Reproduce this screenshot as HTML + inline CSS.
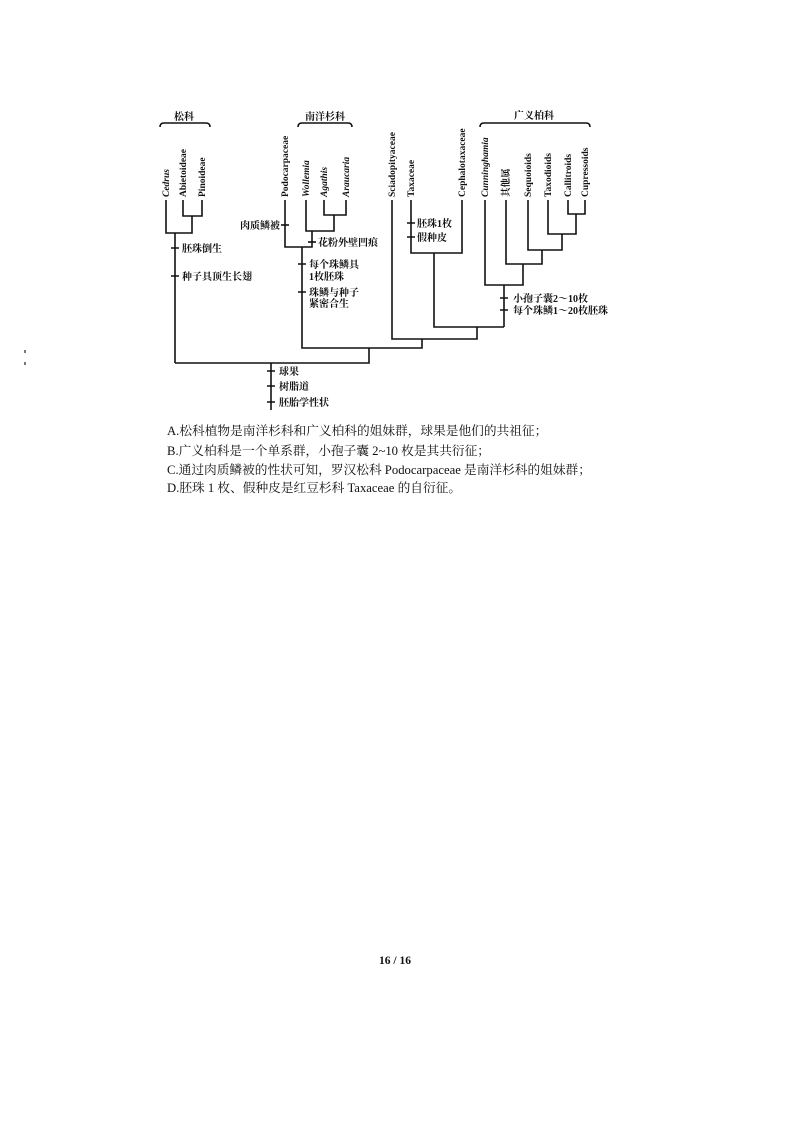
<!DOCTYPE html>
<html><head><meta charset="utf-8">
<style>
html,body{margin:0;padding:0;background:#fff;}
body{width:793px;height:1123px;position:relative;overflow:hidden;}
svg{position:absolute;left:0;top:0;}
.q{position:absolute;left:167px;font-family:"Liberation Serif","Noto Serif CJK SC",serif;font-size:12.7px;color:#111;line-height:19px;white-space:nowrap;}
.pg{position:absolute;left:379px;top:955px;font-family:"Liberation Serif",serif;font-weight:bold;font-size:11.5px;color:#111;}
</style></head><body>
<svg width="793" height="1123" viewBox="0 0 793 1123" font-family="Liberation Serif, Noto Serif CJK SC, serif" fill="#111">
<g stroke="#111" stroke-width="1.6" fill="none">
<path d="M160,127 Q160,123 164,123 L206,123 Q210,123 210,127"/>
<path d="M298,127 Q298,123 302,123 L348,123 Q352,123 352,127"/>
<path d="M480,127 Q480,123 484,123 L586,123 Q590,123 590,127"/>
<path d="M166,200 V233 H192 V216"/>
<path d="M183,200 V216 H202 V200"/>
<path d="M175,233 V363"/>
<path d="M324,200 V215 H346 V200"/>
<path d="M306,200 V231 H334 V215"/>
<path d="M285,200 V247 H312 V231"/>
<path d="M302,247 V348 H422 V339"/>
<path d="M411,200 V253 H462 V200"/>
<path d="M434,253 V327 H504"/>
<path d="M392,200 V339 H477 V327"/>
<path d="M568,200 V214 H585 V200"/>
<path d="M548,200 V234 H576 V214"/>
<path d="M528,200 V250 H562 V234"/>
<path d="M506,200 V264 H542 V250"/>
<path d="M485,200 V285 H523 V264"/>
<path d="M504,285 V327"/>
<path d="M175,363 H369 V348"/>
<path d="M271,363 V410"/>
<path d="M171,248 H179 M171,276 H179"/>
<path d="M267,371 H275 M267,386 H275 M267,402 H275"/>
<path d="M281,225 H289"/>
<path d="M308,242 H316"/>
<path d="M298,264 H306 M298,292 H306"/>
<path d="M407,223 H415 M407,237 H415"/>
<path d="M500,298 H508 M500,310 H508"/>
</g>
<g font-weight="bold" font-size="10">
<text x="174" y="120">松科</text>
<text x="305" y="120">南洋杉科</text>
<text x="514" y="119">广义柏科</text>
<text x="182" y="252">胚珠倒生</text>
<text x="182" y="280">种子具顶生长翅</text>
<text x="279" y="375">球果</text>
<text x="279" y="390">树脂道</text>
<text x="279" y="406">胚胎学性状</text>
<text x="240" y="229">肉质鳞被</text>
<text x="318" y="246">花粉外壁凹痕</text>
<text x="309" y="268">每个珠鳞具</text>
<text x="309" y="280">1枚胚珠</text>
<text x="309" y="296">珠鳞与种子</text>
<text x="309" y="307">紧密合生</text>
<text x="417" y="227">胚珠1枚</text>
<text x="417" y="241">假种皮</text>
<text x="513" y="302">小孢子囊2～10枚</text>
<text x="513" y="314">每个珠鳞1～20枚胚珠</text>
</g>
<g font-weight="bold" font-size="9.5">
<text transform="translate(169,197) rotate(-90)" font-style="italic">Cedrus</text>
<text transform="translate(186,197) rotate(-90)">Abietoideae</text>
<text transform="translate(205,197) rotate(-90)">Pinoideae</text>
<text transform="translate(288,197) rotate(-90)">Podocarpaceae</text>
<text transform="translate(309,197) rotate(-90)" font-style="italic">Wollemia</text>
<text transform="translate(327,197) rotate(-90)" font-style="italic">Agathis</text>
<text transform="translate(349,197) rotate(-90)" font-style="italic">Araucaria</text>
<text transform="translate(395,197) rotate(-90)">Sciadopityaceae</text>
<text transform="translate(414,197) rotate(-90)">Taxaceae</text>
<text transform="translate(465,197) rotate(-90)">Cephalotaxaceae</text>
<text transform="translate(488,197) rotate(-90)" font-style="italic">Cunninghamia</text>
<text transform="translate(509,197) rotate(-90)">其他属</text>
<text transform="translate(531,197) rotate(-90)">Sequoioids</text>
<text transform="translate(551,197) rotate(-90)">Taxodioids</text>
<text transform="translate(571,197) rotate(-90)">Callitroids</text>
<text transform="translate(588,197) rotate(-90)">Cupressoids</text>
</g>
<rect x="24" y="350" width="2" height="3" fill="#777"/>
<rect x="24" y="362" width="2" height="3" fill="#777"/>
</svg>
<div class="q" style="top:422px">A.松科植物是南洋杉科和广义柏科的姐妹群，球果是他们的共祖征；</div>
<div class="q" style="top:442px">B.广义柏科是一个单系群，小孢子囊 2~10 枚是其共衍征；</div>
<div class="q" style="top:461px">C.通过肉质鳞被的性状可知，罗汉松科 Podocarpaceae 是南洋杉科的姐妹群；</div>
<div class="q" style="top:479px">D.胚珠 1 枚、假种皮是红豆杉科 Taxaceae 的自衍征。</div>
<div class="pg">16 / 16</div>
</body></html>
